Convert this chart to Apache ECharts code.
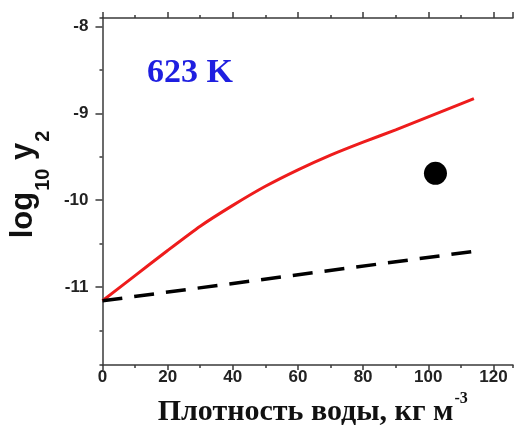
<!DOCTYPE html>
<html>
<head>
<meta charset="utf-8">
<script src="https://cdn.jsdelivr.net/npm/echarts@6/dist/echarts.min.js"></script>
<style>
  html, body { margin: 0; padding: 0; background: #fff; }
  #chart { width: 515px; height: 433px; }
</style>
</head>
<body>
<div id="chart"></div>
<script>
// water density (kg m^-3) vs log10 y2 at 623 K
const modelX = [0, 10, 20, 30, 40, 50, 60, 70, 80, 90, 100, 110, 114];
const modelY = [-11.16, -10.87, -10.58, -10.30, -10.06, -9.84, -9.65, -9.48, -9.33, -9.19, -9.04, -8.89, -8.83];

const idealX = [0, 114];
const idealY = [-11.16, -10.59];

const pointX = [102.2];
const pointY = [-9.69];

const tempLabel = '623 K';

const xRange = [0, 126];
const yRange = [-11.9, -7.9];

const zip = (xs, ys) => xs.map((x, i) => [x, ys[i]]);

const axisColor = '#3a3a3a';
const axisLine = { show: true, onZero: false, lineStyle: { color: axisColor, width: 1.5 } };
const tickStyle = { color: axisColor, width: 1.5 };
const labelFont = {
    fontFamily: "'Liberation Sans', Arial, sans-serif",
    fontWeight: 'bold',
    fontSize: 17,
    color: '#222'
};
const serif = "'Liberation Serif', 'Times New Roman', serif";
const sans = "'Liberation Sans', Arial, sans-serif";

const chart = echarts.init(document.getElementById('chart'));

chart.setOption({
    animation: false,
    backgroundColor: '#fff',
    grid: { left: 97, right: 2, top: 18, bottom: 68, containLabel: false },
    xAxis: [
        {
            type: 'value', position: 'bottom', min: xRange[0], max: xRange[1], interval: 20,
            axisLine: axisLine,
            axisTick: { length: 5, lineStyle: tickStyle },
            axisLabel: Object.assign({ margin: 4, showMaxLabel: false }, labelFont),
            splitLine: { show: false },
            name: '{a|Плотность воды, кг м}{s|-3}',
            nameLocation: 'middle',
            nameGap: 28,
            nameTextStyle: {
                padding: [0, 0, 0, 10],
                rich: {
                    a: {
                        fontFamily: serif, fontWeight: 'bold', fontSize: 30, lineHeight: 32,
                        color: '#111', verticalAlign: 'bottom'
                    },
                    s: {
                        fontFamily: serif, fontWeight: 'bold', fontSize: 16, lineHeight: 16,
                        color: '#111', verticalAlign: 'bottom', padding: [0, 0, 20, 1]
                    }
                }
            }
        },
        {
            type: 'value', position: 'bottom', min: xRange[0], max: xRange[1], interval: 10,
            axisLine: { show: false },
            axisTick: { length: 3, lineStyle: tickStyle },
            axisLabel: { show: false },
            splitLine: { show: false }
        },
        {
            type: 'value', position: 'top', min: xRange[0], max: xRange[1], interval: 20,
            axisLine: axisLine,
            axisTick: { length: 6, lineStyle: tickStyle },
            axisLabel: { show: false },
            splitLine: { show: false }
        },
        {
            type: 'value', position: 'top', min: xRange[0], max: xRange[1], interval: 10,
            axisLine: { show: false },
            axisTick: { length: 3, lineStyle: tickStyle },
            axisLabel: { show: false },
            splitLine: { show: false }
        }
    ],
    yAxis: [
        {
            type: 'value', position: 'left', min: yRange[0], max: yRange[1], splitNumber: 4,
            axisLine: axisLine,
            axisTick: { length: 7, lineStyle: tickStyle },
            axisLabel: Object.assign({ margin: 14, showMinLabel: false, showMaxLabel: false }, labelFont),
            splitLine: { show: false },
            name: '{m|log}{s|10}{m| y}{s|2}',
            nameLocation: 'middle',
            nameGap: 38,
            nameTextStyle: {
                padding: [0, 0, 0, 14],
                rich: {
                    m: {
                        fontFamily: sans, fontWeight: 'bold', fontSize: 31, lineHeight: 30,
                        color: '#111', verticalAlign: 'top'
                    },
                    s: {
                        fontFamily: sans, fontWeight: 'bold', fontSize: 20, lineHeight: 20,
                        color: '#111', verticalAlign: 'top', padding: [25, 0, 0, 1]
                    }
                }
            }
        },
        {
            type: 'value', position: 'left', min: yRange[0], max: yRange[1], splitNumber: 8,
            axisLine: { show: false },
            axisTick: { length: 3, lineStyle: tickStyle },
            axisLabel: { show: false },
            splitLine: { show: false }
        }
    ],
    graphic: [
        {
            type: 'text',
            x: 147, y: 73,
            style: {
                text: tempLabel,
                fill: '#1e1ee0',
                font: "bold 34px " + serif,
                align: 'left',
                verticalAlign: 'middle'
            }
        }
    ],
    series: [
        {
            type: 'line',
            data: zip(modelX, modelY),
            showSymbol: false,
            smooth: 0.2,
            lineStyle: { color: '#ee1c1c', width: 3 }
        },
        {
            type: 'line',
            data: zip(idealX, idealY),
            showSymbol: false,
            lineStyle: { color: '#000', width: 3.5, type: [20, 12] }
        },
        {
            type: 'scatter',
            data: zip(pointX, pointY),
            symbol: 'circle',
            symbolSize: 23,
            itemStyle: { color: '#000', opacity: 1 }
        }
    ]
});
</script>
</body>
</html>
